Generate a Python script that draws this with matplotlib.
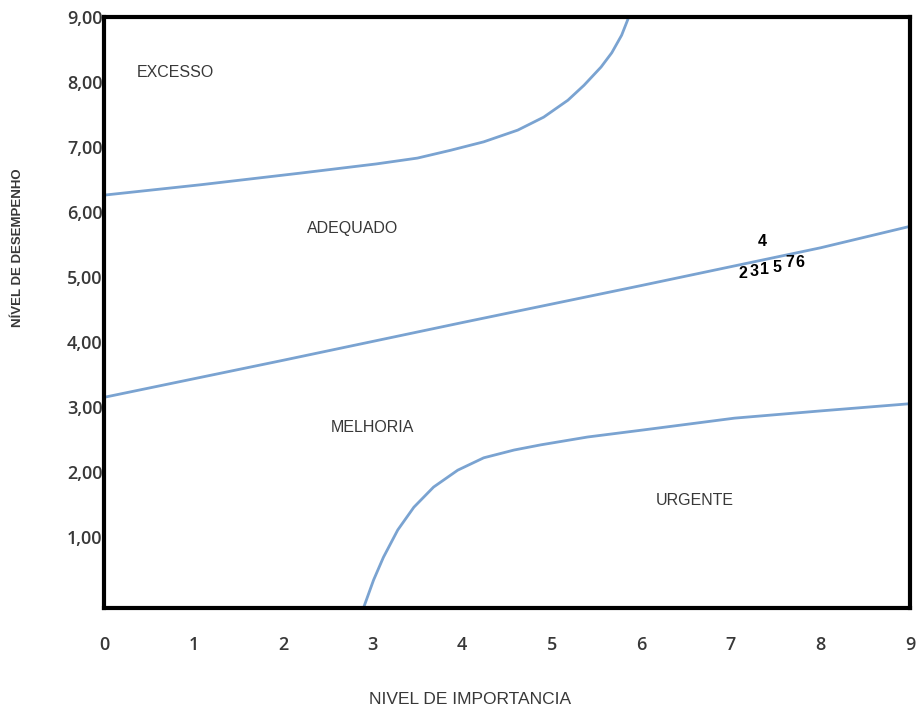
import matplotlib.pyplot as plt

# boundary curves of the importance x performance matrix
top_x = [0, 1.08, 2.2, 3.04, 3.5, 3.87, 4.24, 4.62, 4.91, 5.18, 5.36, 5.55, 5.67, 5.78, 5.86]
top_y = [6.26, 6.42, 6.6, 6.74, 6.83, 6.95, 7.08, 7.26, 7.46, 7.72, 7.95, 8.23, 8.45, 8.72, 9.0]

mid_x = [0, 2, 4, 6, 8, 9]
mid_y = [3.15, 3.72, 4.3, 4.87, 5.45, 5.78]

bot_x = [2.9, 3.01, 3.12, 3.28, 3.46, 3.68, 3.95, 4.24, 4.58, 4.88, 5.4, 6.03, 7.04, 7.99, 8.98]
bot_y = [-0.08, 0.34, 0.69, 1.11, 1.46, 1.77, 2.03, 2.22, 2.34, 2.42, 2.54, 2.65, 2.83, 2.94, 3.05]

# region names
zone_names = ["EXCESSO", "ADEQUADO", "MELHORIA", "URGENTE"]
zone_x = [0.8, 2.78, 3.0, 6.6]
zone_y = [8.15, 5.75, 2.68, 1.57]

# numbered items
item_labels = ["1", "2", "3", "4", "5", "6", "7"]
item_x = [7.38, 7.14, 7.26, 7.35, 7.52, 7.77, 7.66]
item_y = [5.11, 5.06, 5.09, 5.54, 5.15, 5.22, 5.22]

x_ticks = list(range(0, 10))
y_ticks = list(range(1, 10))
y_ticklabels = ["%d,00" % v for v in y_ticks]

line_color = "#7aa3d1"
text_color = "#383838"

fig = plt.figure(figsize=(9.18, 7.12), dpi=100)
ax = fig.add_axes([104 / 918, 104 / 712, 806 / 918, 591 / 712])

ax.plot(top_x, top_y, color=line_color, lw=2)
ax.plot(mid_x, mid_y, color=line_color, lw=2)
ax.plot(bot_x, bot_y, color=line_color, lw=2)

for name, x, y in zip(zone_names, zone_x, zone_y):
    ax.text(x, y, name, ha="center", va="center", fontsize=11.5,
            color=text_color, family=["Liberation Sans", "DejaVu Sans"])

for lab, x, y in zip(item_labels, item_x, item_y):
    ax.text(x, y, lab, ha="center", va="center", fontsize=11.5,
            fontweight="bold", color="black",
            family=["Liberation Sans", "DejaVu Sans"])

ax.set_xlim(0, 9)
ax.set_ylim(-0.09, 9)
ax.set_xticks(x_ticks)
ax.set_yticks(y_ticks)
ax.set_yticklabels(y_ticklabels)
ax.tick_params(length=0, labelsize=13, labelcolor=text_color)
ax.tick_params(axis="x", pad=20)
ax.tick_params(axis="y", pad=1)
for lab in ax.get_xticklabels() + ax.get_yticklabels():
    lab.set_family(["Open Sans", "DejaVu Sans"])
    lab.set_fontweight("semibold")

for s in ax.spines.values():
    s.set_linewidth(3)
    s.set_color("black")

fig.text(470 / 918, 1 - 700 / 712, "NIVEL DE IMPORTANCIA", ha="center",
         va="center", fontsize=12.5, color=text_color,
         family=["Liberation Sans", "DejaVu Sans"])
fig.text(18 / 918, 1 - 248 / 712, "NÍVEL DE DESEMPENHO", ha="center",
         va="center", rotation=90, fontsize=9.5, fontweight="bold",
         color=text_color, family=["Liberation Sans", "DejaVu Sans"])

fig.savefig("out.png", dpi=100)
